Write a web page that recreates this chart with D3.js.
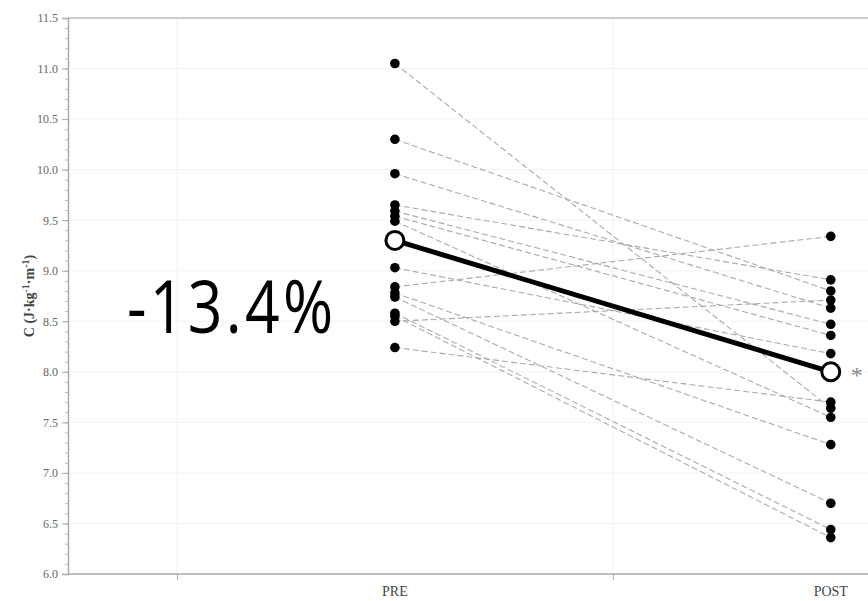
<!DOCTYPE html>
<html lang="en">
<head>
<meta charset="utf-8">
<title>Energy cost PRE / POST</title>
<style>
  body { margin: 0; background: #fff; }
  svg { display: block; }
  .tick text { font-family: "Liberation Serif", "Times New Roman", serif; fill: #666; }
</style>
</head>
<body>
<div id="chart"></div>
<script src="https://cdn.jsdelivr.net/npm/d3@7"></script>
<script>
// individual values, paired by index (PRE[i] -> POST[i])
var pre  = [11.05, 10.30, 9.96, 9.65, 9.59, 9.54, 9.49, 9.03, 8.84, 8.78, 8.74, 8.58, 8.55, 8.50, 8.24];
var post = [7.64, 8.80, 8.63, 8.91, 8.47, 8.36, 7.55, 8.18, 9.34, 7.28, 6.70, 6.44, 6.36, 8.71, 7.70];
// group means as drawn
var groupNames = ["PRE", "POST"];
var groupPos = [2, 4];
var means = [9.30, 8.00];
var yTicks = [6.0, 6.5, 7.0, 7.5, 8.0, 8.5, 9.0, 9.5, 10.0, 10.5, 11.0, 11.5];
var changeLabel = "-13.4%";

var width = 868, height = 601;

var svg = d3.select("#chart").append("svg")
    .attr("width", width)
    .attr("height", height);

var x = d3.scaleLinear().domain([0.5, 4.18]).range([68, 870]);
var y = d3.scaleLinear().domain([6, 11.5]).range([574, 18]);

// faint grid
svg.append("g").selectAll("line")
  .data(yTicks.slice(1, -1))
  .enter().append("line")
    .attr("x1", x(0.5)).attr("x2", width)
    .attr("y1", function(d) { return y(d); })
    .attr("y2", function(d) { return y(d); })
    .attr("stroke", "#f3f3f3");

svg.append("g").selectAll("line")
  .data([1, 3])
  .enter().append("line")
    .attr("x1", function(d) { return x(d); })
    .attr("x2", function(d) { return x(d); })
    .attr("y1", y(11.5)).attr("y2", y(6))
    .attr("stroke", "#f1f1f1");

// top border
svg.append("line")
  .attr("x1", x(0.5)).attr("x2", width)
  .attr("y1", y(11.5)).attr("y2", y(11.5))
  .attr("stroke", "#bbb").attr("stroke-width", 1.5);

// y axis, minor ticks first
var minor = d3.range(60, 116).map(function(d) { return d / 10; });
svg.append("g")
  .attr("transform", "translate(" + x(0.5) + ",0)")
  .call(d3.axisLeft(y).tickValues(minor).tickSize(3).tickFormat(""))
  .call(function(g) { g.select(".domain").remove(); })
  .selectAll("line").attr("stroke", "#bbb");

var yAxis = svg.append("g")
  .attr("transform", "translate(" + x(0.5) + ",0)")
  .call(d3.axisLeft(y).tickValues(yTicks).tickSize(6).tickPadding(4).tickFormat(d3.format(".1f")));
yAxis.select(".domain").attr("stroke", "#aaa").attr("stroke-width", 1.5);
yAxis.selectAll(".tick line").attr("stroke", "#aaa");
yAxis.selectAll(".tick text").attr("font-size", 12).attr("fill", "#555");

// x axis
var xAxis = svg.append("g")
  .attr("transform", "translate(0," + y(6) + ")")
  .call(d3.axisBottom(x).tickValues([1, 3]).tickSize(6).tickFormat(""));
xAxis.select(".domain").remove();
xAxis.selectAll(".tick line").attr("stroke", "#aaa");
svg.append("line")
  .attr("x1", x(0.5)).attr("x2", width)
  .attr("y1", y(6)).attr("y2", y(6))
  .attr("stroke", "#aaa").attr("stroke-width", 1.5);

svg.append("g").selectAll("text")
  .data(groupNames)
  .enter().append("text")
    .attr("x", function(d, i) { return x(groupPos[i]); })
    .attr("y", 596)
    .attr("text-anchor", "middle")
    .attr("font-family", "Liberation Serif, Times New Roman, serif")
    .attr("font-size", 14)
    .attr("fill", "#444")
    .text(function(d) { return d; });

// y label
var ylab = svg.append("text")
  .attr("transform", "translate(34,296) rotate(-90)")
  .attr("text-anchor", "middle")
  .attr("font-family", "Liberation Serif, Times New Roman, serif")
  .attr("font-weight", "bold")
  .attr("font-size", 14)
  .attr("fill", "#444");
ylab.append("tspan").text("C (J\u00b7kg");
ylab.append("tspan").attr("baseline-shift", "super").attr("font-size", 10).text("-1");
ylab.append("tspan").text("\u00b7m");
ylab.append("tspan").attr("baseline-shift", "super").attr("font-size", 10).text("-1");
ylab.append("tspan").text(")");

// individual dashed lines
svg.append("g").selectAll("line")
  .data(pre)
  .enter().append("line")
    .attr("x1", x(groupPos[0]))
    .attr("x2", x(groupPos[1]))
    .attr("y1", function(d) { return y(d); })
    .attr("y2", function(d, i) { return y(post[i]); })
    .attr("stroke", "#aaa")
    .attr("stroke-width", 1.1)
    .attr("stroke-dasharray", "6,3");

// individual points
svg.append("g").selectAll("circle")
  .data(pre)
  .enter().append("circle")
    .attr("cx", x(groupPos[0]))
    .attr("cy", function(d) { return y(d); })
    .attr("r", 4.8)
    .attr("fill", "#000");

svg.append("g").selectAll("circle")
  .data(post)
  .enter().append("circle")
    .attr("cx", x(groupPos[1]))
    .attr("cy", function(d) { return y(d); })
    .attr("r", 4.8)
    .attr("fill", "#000");

// mean line and circles
svg.append("line")
  .attr("x1", x(groupPos[0])).attr("x2", x(groupPos[1]))
  .attr("y1", y(means[0])).attr("y2", y(means[1]))
  .attr("stroke", "#000")
  .attr("stroke-width", 5);

svg.append("g").selectAll("circle")
  .data(means)
  .enter().append("circle")
    .attr("cx", function(d, i) { return x(groupPos[i]); })
    .attr("cy", function(d) { return y(d); })
    .attr("r", 9)
    .attr("fill", "#fff")
    .attr("stroke", "#000")
    .attr("stroke-width", 3);

// significance mark
svg.append("text")
  .attr("x", x(groupPos[1]) + 26)
  .attr("y", y(means[1]) + 11)
  .attr("text-anchor", "middle")
  .attr("font-family", "Liberation Serif, Times New Roman, serif")
  .attr("font-size", 24)
  .attr("fill", "#888")
  .text("*");

// percent change
svg.append("text")
  .attr("transform", "translate(127,333) scale(0.82,1)")
  .attr("font-family", "Open Sans, Noto Sans, sans-serif")
  .attr("font-size", 74)
  .attr("letter-spacing", 4)
  .attr("fill", "#000")
  .text(changeLabel);
</script>
</body>
</html>
